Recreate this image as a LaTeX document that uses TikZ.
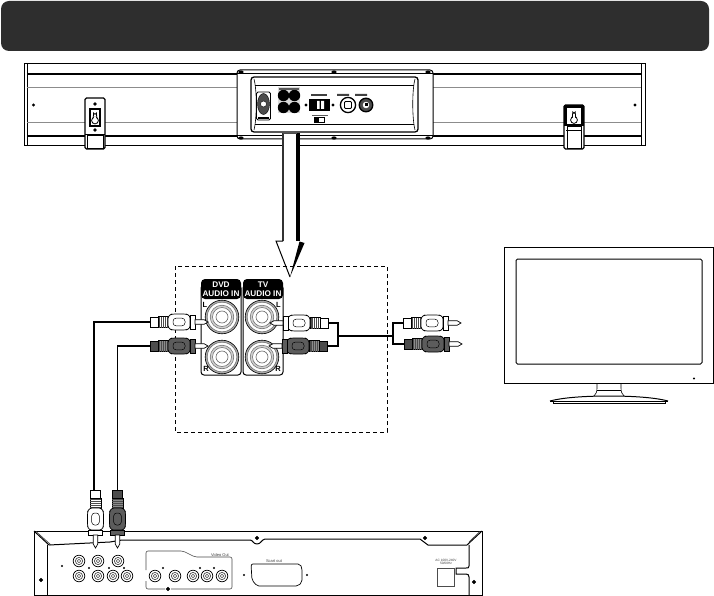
\documentclass[tikz,border=0pt]{standalone}
\usepackage{fontspec}
\setmainfont{Liberation Sans}
\definecolor{headbar}{HTML}{2E2E2E}
\definecolor{plugdark}{HTML}{5C5C5C}
\definecolor{ringgray}{HTML}{ABABAB}
\tikzset{
  thickline/.style={line width=1.5pt,black},
  midline/.style={line width=1pt,black},
  thinline/.style={line width=.6pt,black},
  grayline/.style={line width=.6pt,black!45},
  cable/.style={line width=1.6pt,black},
  dashbox/.style={line width=1pt,dash pattern=on 4pt off 3pt,black},
  panelhead/.style={text=white,font=\bfseries\fontsize{8.2}{8.8}\selectfont,align=center,inner sep=0pt},
  portlabel/.style={text=black,font=\bfseries\fontsize{7.5}{8}\selectfont,inner sep=0pt},
  tinytext/.style={text=black!75,font=\fontsize{3.2}{3.6}\selectfont,align=center,inner sep=0pt},
}
% plug: x, y, rotation, body colour, tail colour, rib colour
\newcommand{\rcaplug}[6]{%
\begin{scope}[shift={(#1,#2)},rotate=#3,line width=.7pt]
  \filldraw[fill=#5] (0,-5) rectangle (8,5);
  \filldraw[fill=#6] (8,-5.5) rectangle (18,5.5);
  \foreach \r in {9.5,11.5,13.5,15.5,17}{\draw[line width=.5pt,black!70] (\r,-5.5) -- (\r,5.5);}
  \filldraw[fill=#4,rounded corners=2.5pt] (18,-6) -- (22,-8) -- (36,-8) -- (40,-6.5) -- (40,6.5) -- (36,8) -- (22,8) -- (18,6) -- cycle;
  \draw[rounded corners=3pt,line width=.5pt] (23,-3.8) rectangle (35,3.8);
  \filldraw[fill=#4] (40,-7) rectangle (45,7);
  \filldraw[fill=white] (45,-2.3) -- (54,-2.3) -- (58,0) -- (54,2.3) -- (45,2.3) -- cycle;
\end{scope}}
\newcommand{\bigjack}[2]{%
  \filldraw[fill=ringgray,draw=black,line width=.6pt] (#1,#2) circle (16.8);
  \filldraw[fill=white,draw=black!60,line width=.5pt] (#1,#2) circle (14.8);
  \filldraw[fill=ringgray!55,draw=black!60,line width=.5pt] (#1,#2) circle (11.8);
  \filldraw[fill=white,draw=black!60,line width=.5pt] (#1,#2) circle (9.5);
  \filldraw[fill=white,draw=black!60,line width=.6pt] (#1,#2) circle (6);
}
\newcommand{\smalljack}[2]{%
  \filldraw[fill=white,draw=black,line width=.7pt] (#1,#2) circle (5.8);
  \draw[black!70,line width=.7pt] (#1,#2) circle (3.6);
  \draw[black!70,line width=.5pt] (#1,#2) circle (1.7);
}
\begin{document}
\begin{tikzpicture}[x=1pt,y=-1pt]
\useasboundingbox (0,0) rectangle (714,596);
\fill[white] (0,0) rectangle (714,596);
% header
\fill[headbar,rounded corners=8pt] (1,1) rectangle (709,51);

% ---------- sound bar
\draw[midline] (24,63.5) rectangle (645,146);
\draw[midline] (27,63.5) -- (27,146) (641,63.5) -- (641,146);
\draw[thickline] (27,74) -- (641,74) (27,136) -- (641,136);
\draw[grayline] (27,87) -- (641,87) (27,122) -- (641,122);
\fill (33.5,105) circle (1.6) (635,105) circle (1.6);
% left bracket
\filldraw[fill=white,draw=black,line width=1.3pt,rounded corners=1.5pt] (85,98) rectangle (105,149);
\draw[thinline] (87,135) rectangle (103,148);
\draw[midline] (85,135) -- (105,135);
\fill (95,104) circle (1.9) (95,130) circle (1.9);
\fill[black] (89,108) rectangle (101,127);
\fill[white] (90.8,110) rectangle (99.2,125.5);
\filldraw[fill=white,draw=black,line width=.8pt] (95,120.5) circle (3.4);
\draw[black,line width=.8pt] (93.2,118) -- (93.6,113) arc (180:0:1.4) -- (96.8,118);
\fill[white] (93.7,117) rectangle (96.3,119);
% right bracket
\filldraw[fill=white,draw=black,line width=1.3pt,rounded corners=1.5pt] (564,105) rectangle (584,149);
\fill (564,105) rectangle (584,126);
\fill[white] (567,108) rectangle (581,124);
\filldraw[fill=white,draw=black,line width=.8pt] (574,120) circle (3.4);
\draw[black,line width=.8pt] (572.3,117.5) -- (572.8,112) arc (180:0:1.2) -- (575.7,117.5);
\fill[white] (572.9,116) rectangle (575.1,118.5);
\draw[thinline] (567,126) rectangle (581,148);
\draw[midline] (566,131) -- (582,131);
% centre housing
\filldraw[fill=white,draw=black,line width=1pt,rounded corners=3pt] (237,70) rectangle (433,139);
\draw[midline] (237,74) -- (433,74) (237,136) -- (433,136);
\foreach \sx in {241,334,428}{\fill (\sx,72) ellipse (2.6 and 1.6); \fill (\sx,138) ellipse (2.6 and 1.6);}
\filldraw[fill=white,draw=black,line width=1.3pt,rounded corners=3pt] (251,77) rectangle (418,132);
\draw[midline] (255,86) -- (414,86) (255,125) -- (414,125);
\draw[thinline] (254,79) .. controls (257,90) and (257,118) .. (254,130);
\draw[thinline] (415,79) .. controls (412,90) and (412,118) .. (415,130);
% power socket
\filldraw[fill=white,draw=black,line width=.9pt,rounded corners=1.5pt] (256.5,92) rectangle (270.5,120);
\filldraw[fill=black!70,draw=black] (263.5,104) ellipse (6 and 10.5);
\filldraw[fill=white,draw=black] (263.5,104) circle (3);
\fill (258,117) rectangle (269,119);
% four connectors
\fill[black!15] (278,87) rectangle (300,113);
\foreach \cx in {283.5,294.5}{\foreach \cy in {95.5,107.5}{\fill (\cx,\cy) circle (5.7);}}
\fill[black!65] (279,88) rectangle (299,90);
% selector block
\fill (309,99) rectangle (330,111);
\fill[white] (317,101) rectangle (319.5,109) (321,101) rectangle (324,109);
\fill (306,105) circle (1.6) (333,105) circle (1.6);
\fill[black!75] (311,94) rectangle (327,96);
\fill[black!65] (312,115) rectangle (328,116.5);
\filldraw[fill=white,draw=black,line width=1pt] (314,118) rectangle (324,123);
\fill (314,118) rectangle (319,123);
% round sockets
\filldraw[fill=white,draw=black,line width=1.3pt] (348,105) circle (7.6);
\draw[black,line width=.8pt,rounded corners=1pt] (344.5,101.5) rectangle (351.5,108.5);
\filldraw[fill=black!70,draw=black,line width=1.3pt] (366,105) circle (6.8);
\filldraw[fill=white,draw=white] (366,105) circle (3);
\fill (364.5,103.5) rectangle (367.5,106.5);
\fill[black!75] (337,94) rectangle (349,96) (355,94) rectangle (367,96);

% ---------- big arrow
\coordinate (arrowtip) at (290,277);
\fill[white] (283,133) rectangle (297,241);
\draw[line width=1.2pt,black!80] (283,133) -- (283,241);
\draw[line width=4pt,black] (297.5,133) -- (297.5,241);
\draw[line width=.6pt,black!70] (283,133) -- (297,133);
\fill[white] (276,241) -- (304,241) -- (arrowtip) -- cycle;
\draw[line width=1pt,black,line join=miter] (283,241) -- (276,241) -- (arrowtip);
\fill[black] (arrowtip) -- (299.5,241.5) -- (304.5,243) -- cycle;

% ---------- dashed zoom box
\draw[dashbox] (175,266) rectangle (387,432);

% ---------- audio-in panels
\filldraw[fill=white,draw=black,line width=1pt,rounded corners=3pt] (201,285) -- (201,375) -- (241,375) -- (241,285) -- cycle;
\filldraw[fill=white,draw=black,line width=1pt,rounded corners=3pt] (243,285) -- (243,375) -- (283,375) -- (283,285) -- cycle;
\fill[black,rounded corners=4pt] (201,299) -- (201,279) -- (241,279) -- (241,299) -- cycle;
\fill[black,rounded corners=4pt] (243,299) -- (243,279) -- (283,279) -- (283,299) -- cycle;
\node[panelhead] (dvdlabel) at (221,289) {DVD\\AUDIO IN};
\node[panelhead] (tvlabel) at (263,289) {TV\\AUDIO IN};
\bigjack{222}{317}\bigjack{222}{357}\bigjack{262}{317}\bigjack{262}{357}
\node[portlabel] (dvdL) at (205,304.5) {L};
\node[portlabel] (dvdR) at (206,369) {R};
\node[portlabel] (tvL) at (278.5,304.5) {L};
\node[portlabel] (tvR) at (278,369) {R};

% ---------- cables (named end points)
\coordinate (dvdwhite) at (94,490);
\coordinate (dvdgray) at (117.5,490);
\coordinate (leftwhite) at (150,322);
\coordinate (leftgray) at (150,346);
\coordinate (tvwhite) at (328,323);
\coordinate (tvgray) at (327,346);
\coordinate (jointl) at (338,336);
\coordinate (jointr) at (393,336);
\coordinate (outwhite) at (403,323);
\coordinate (outgray) at (404,344);
\draw[cable,line join=miter] (dvdwhite) |- (leftwhite);
\draw[cable,line join=miter] (dvdgray) |- (leftgray);
\draw[cable,line join=miter] (tvwhite) -| (jointl) |- (tvgray);
\draw[cable] (jointl) -- (jointr);
\draw[cable,line join=miter] (outwhite) -| (jointr) |- (outgray);

% ---------- plugs
\rcaplug{150}{322}{0}{white}{white}{white}
\rcaplug{150}{346}{0}{plugdark}{black!70}{black!45}
\rcaplug{328}{323}{180}{white}{white}{white}
\rcaplug{327}{346}{180}{plugdark}{black!70}{black!45}
\rcaplug{403}{323}{0}{white}{white}{white}
\rcaplug{404}{344}{0}{plugdark}{black!70}{black!45}

% ---------- TV
\draw[midline] (504,247) rectangle (713,383);
\draw[midline,rounded corners=1.5pt] (516,259) rectangle (702,364);
\fill (694,378.5) circle (1.2);
\draw[thinline] (597,383) -- (597,388) .. controls (597,392) and (596,394) .. (594,396);
\draw[thinline] (621,383) -- (621,388) .. controls (621,392) and (622,394) .. (624,396);
\draw[thinline] (597,390) -- (621,390);
\draw[midline] (550,401) .. controls (565,397) and (590,396) .. (609,396) .. controls (628,396) and (653,397) .. (668,401);
\draw[midline] (550,401) -- (668,401);
\draw[thinline] (553,401) -- (553,403.2) -- (665,403.2) -- (665,401);

% ---------- DVD player
\draw[line width=.9pt,black] (482,595) -- (34,595) -- (34,531) -- (482,531) -- cycle;
\draw[line width=1pt,black,line join=round]
  (34,531) -- (49,545) -- (110,542) -- (122,540) -- (250,540)
  .. controls (253,540) and (253,544) .. (257,544)
  .. controls (261,544) and (261,540) .. (265,539) -- (420,539)
  -- (428,545) -- (467,545) -- (482,531);
\draw[line width=.7pt,black!75] (36,531.5) -- (51,545);
\draw[line width=.7pt,black!75] (480,531.5) -- (469,542);
\draw[midline] (47,545) -- (47,595);
\draw[midline] (469,545) -- (469,566) .. controls (469,568) and (468,568) .. (466,568) -- (456,568) -- (456,574) -- (466,574) .. controls (468,574) and (469,575) .. (469,577) -- (469,595);
\draw[line width=.5pt,black!70] (437,568) rectangle (454,586);
\node[tinytext] (aclabel) at (446,562) {AC 100V-240V\\50/60Hz};
\foreach \sx/\sy in {41/580,257/538,425/538,474/582,168/589}{\filldraw[fill=black,draw=black] (\sx,\sy) circle (1.9);}
\foreach \jx in {79,98,118}{\smalljack{\jx}{561}}
\foreach \jx in {79,98,113,127,155,175,193,207,222}{\smalljack{\jx}{576}}
\foreach \dx/\dy in {62/566,89/568,109/568,124/568,163/568,200/568,214/568,244/575,307/575}{\fill (\dx,\dy) circle (1.2);}
\draw[line width=.6pt,black!70,rounded corners=2pt] (146,570) -- (146,551) -- (183,551) -- (195,557) -- (232,557) -- (232,589) -- (171,589);
\draw[line width=.6pt,black!70,rounded corners=2pt] (165,589) -- (146,589) -- (146,581);
\node[tinytext,font=\fontsize{4}{4}\selectfont] (videoout) at (220,554.7) {Video Out};
\draw[line width=.7pt,black,rounded corners=2pt] (251,564) -- (300,564) -- (302,568) -- (302,582) -- (298,586) -- (257,586) -- (252,580) -- cycle;
\node[tinytext,font=\fontsize{4}{4}\selectfont] (scartout) at (274,561) {Scart out};

% plugs into the DVD player (over the housing)
\rcaplug{95.5}{490}{-90}{white}{white}{white}
\rcaplug{117.5}{490}{-90}{plugdark}{black!70}{black!45}
\end{tikzpicture}
\end{document}
